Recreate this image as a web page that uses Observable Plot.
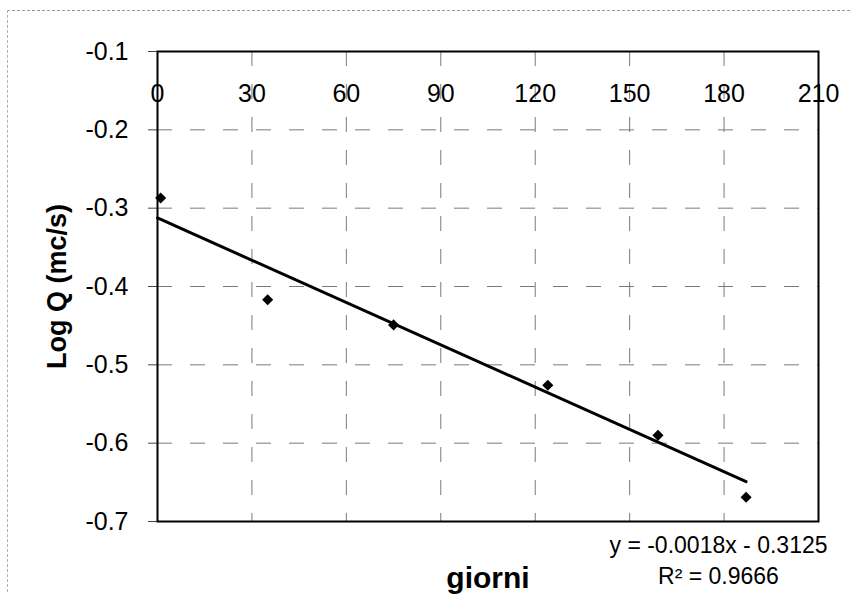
<!DOCTYPE html>
<html>
<head>
<meta charset="utf-8">
<script src="https://cdn.jsdelivr.net/npm/d3@7"></script>
<script src="https://cdn.jsdelivr.net/npm/@observablehq/plot@0.6"></script>
<style>
  html, body { margin: 0; padding: 0; background: #fff; }
  #wrap { position: relative; width: 850px; height: 610px; }
  #border {
    position: absolute; left: 7px; top: 10px; right: 0; bottom: 18px;
    border-top: 1px dashed #9a9a9a; border-left: 1px dashed #b0b0b0;
    pointer-events: none;
  }
</style>
</head>
<body>
<div id="wrap"><div id="border"></div></div>
<script>
// Portata (log10 di Q, in mc/s) misurata nei giorni successivi
const days = [1, 35, 75, 124, 159, 187];
const logQ = [-0.287, -0.417, -0.449, -0.526, -0.590, -0.669];

// Retta di regressione lineare e coefficiente di determinazione
const slope = -0.0018;
const intercept = -0.3125;
const r2 = 0.9666;

// Tacche degli assi
const xTicks = [0, 30, 60, 90, 120, 150, 180, 210];
const yTicks = [-0.7, -0.6, -0.5, -0.4, -0.3, -0.2, -0.1];

const points = days.map((d, i) => ({day: d, logQ: logQ[i]}));
const trend = [0, d3.max(days)].map(x => ({day: x, logQ: slope * x + intercept}));

const fmt = (v, n) => v.toFixed(n);
const eqText = `y = ${fmt(slope, 4)}x - ${fmt(Math.abs(intercept), 4)}`;
const r2Text = `R² = ${fmt(r2, 4)}`;

const dash = "15,18";
const grey = "#7a7a7a";

const chart = Plot.plot({
  width: 850,
  height: 610,
  marginTop: 51,
  marginLeft: 157,
  marginRight: 32,
  marginBottom: 89,
  style: {fontFamily: "'Liberation Sans', Arial, sans-serif", background: "transparent", color: "black"},
  x: {domain: [0, 210], axis: null},
  y: {domain: [-0.7, -0.1], axis: null},
  marks: [
    // griglia tratteggiata
    Plot.ruleX(xTicks, {x: d => d, stroke: grey, strokeWidth: 1, strokeDasharray: dash}),
    Plot.ruleY(yTicks, {y: d => d, stroke: grey, strokeWidth: 1, strokeDasharray: dash}),
    // asse Y a sinistra
    Plot.axisY({
      ticks: yTicks, tickSize: 9, tickPadding: 20, fontSize: 25,
      tickFormat: d => fmt(d, 1), stroke: "#444", label: null
    }),
    // etichette dell'asse X, sotto il bordo superiore
    Plot.text(xTicks, {
      x: d => d, frameAnchor: "top", lineAnchor: "middle", dy: 42,
      text: d => String(d), fontSize: 25, fill: "black"
    }),
    // linea di tendenza
    Plot.line(trend, {x: "day", y: "logQ", stroke: "black", strokeWidth: 3}),
    // misure
    Plot.dot(points, {x: "day", y: "logQ", symbol: "diamond2", r: 5, fill: "black", stroke: "none"}),
    Plot.frame({stroke: "black", strokeWidth: 2}),
    // titoli degli assi
    Plot.text(["Log Q (mc/s)"], {
      frameAnchor: "left", textAnchor: "middle", lineAnchor: "middle",
      dx: -100, rotate: -90, fontSize: 27, fontWeight: "bold", fill: "black"
    }),
    Plot.text(["giorni"], {
      frameAnchor: "bottom", lineAnchor: "middle", dy: 57,
      fontSize: 30, fontWeight: "bold", fill: "black"
    }),
    // equazione e R²
    Plot.text([eqText], {
      frameAnchor: "bottom-right", textAnchor: "middle", lineAnchor: "middle",
      dx: -100, dy: 24, fontSize: 23, fill: "black", letterSpacing: "0.5px"
    }),
    Plot.text([r2Text], {
      frameAnchor: "bottom-right", textAnchor: "middle", lineAnchor: "middle",
      dx: -100, dy: 55, fontSize: 23, fill: "black", letterSpacing: "0.5px"
    })
  ]
});

document.getElementById("wrap").appendChild(chart);
chart.style.position = "absolute";
chart.style.left = "0";
chart.style.top = "0";
</script>
</body>
</html>
